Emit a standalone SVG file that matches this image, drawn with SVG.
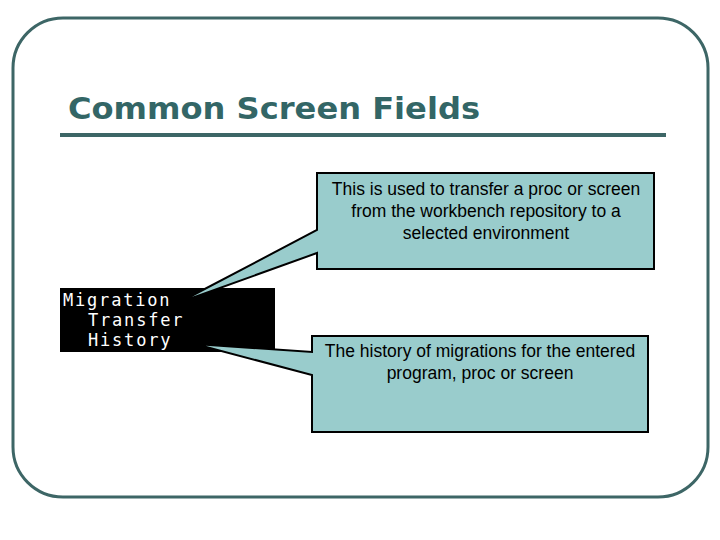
<svg xmlns="http://www.w3.org/2000/svg" width="720" height="540" viewBox="0 0 720 540">
<style>
.frame{fill:none;stroke:#3d6666;stroke-width:3}
.title{font-family:"DejaVu Sans","Liberation Sans",Arial,sans-serif;font-weight:bold;font-size:31px;fill:#336666}
.callout{fill:#99cccc;stroke:#000;stroke-width:2;stroke-linejoin:miter}
.ct{font-family:"Liberation Sans",Arial,sans-serif;font-size:17.5px;fill:#000;text-anchor:middle}
.mono{font-family:"DejaVu Sans Mono","Liberation Mono",monospace;font-size:17px;letter-spacing:1.8px;fill:#fff}
</style>
<rect width="720" height="540" fill="#fff"/>
<rect class="frame" x="13" y="18" width="695" height="479" rx="50" ry="50"/>
<text class="title" x="68" y="119" textLength="412" lengthAdjust="spacingAndGlyphs">Common Screen Fields</text>
<line x1="60" y1="135" x2="666" y2="135" stroke="#3d6666" stroke-width="4"/>
<g id="fields">
<rect x="60" y="288" width="215" height="64" fill="#000"/>
<text class="mono" x="63" y="306">Migration</text>
<text class="mono" x="88" y="326">Transfer</text>
<text class="mono" x="88" y="346">History</text>
</g>
<g id="connectors"></g>
<g id="callout-transfer">
<path class="callout" d="M317,173 H654 V269 H317 V253 L178,303 L317,230 Z"/>
<text class="ct" x="486" y="195">This is used to transfer a proc or screen</text>
<text class="ct" x="486" y="217">from the workbench repository to a</text>
<text class="ct" x="486" y="239">selected environment</text>
</g>
<g id="callout-history">
<path class="callout" d="M312,336 H648 V432 H312 V375 L195,344 L312,352 Z"/>
<text class="ct" x="480" y="357">The history of migrations for the entered</text>
<text class="ct" x="480" y="379">program, proc or screen</text>
</g>
</svg>
